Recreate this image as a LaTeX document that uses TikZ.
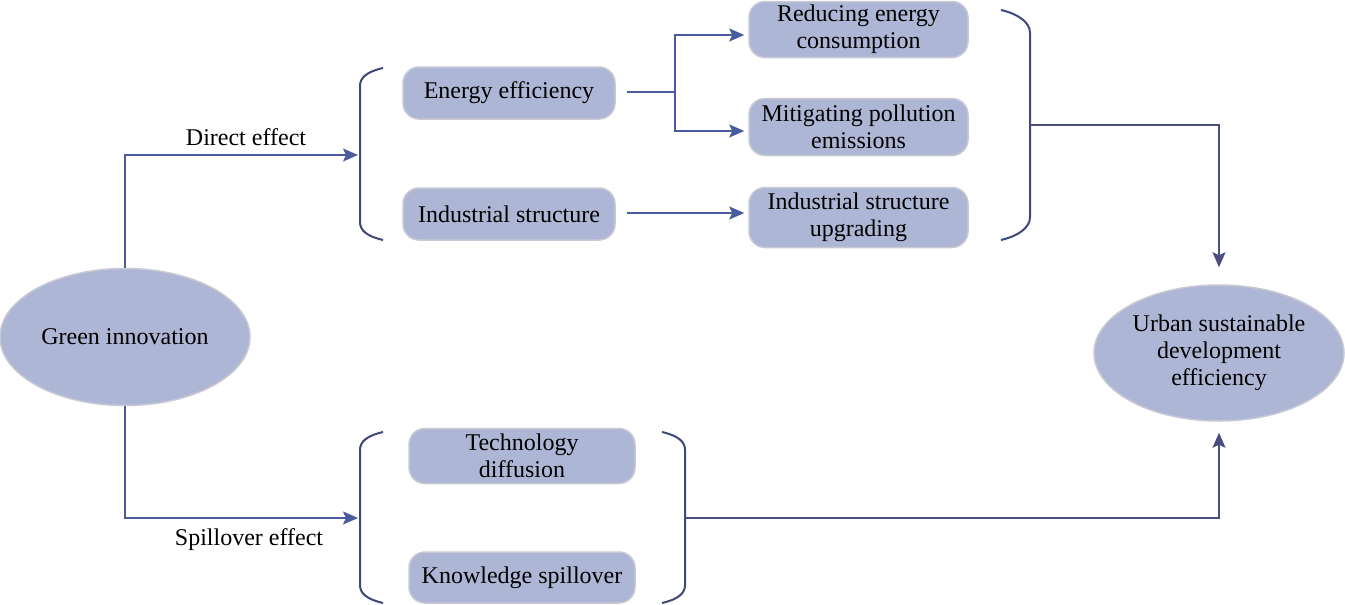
\documentclass[tikz,border=0pt]{standalone}
\usepackage{fontspec}
\setmainfont{Liberation Serif}
\usetikzlibrary{shapes.geometric,arrows.meta,calc}
\definecolor{boxfill}{RGB}{174,182,213}
\definecolor{boxedge}{RGB}{200,201,212}
\definecolor{lineblue}{RGB}{76,90,160}
\definecolor{linedark}{RGB}{72,78,128}
\definecolor{bracecol}{RGB}{62,72,122}
\tikzset{
  txt/.style={font=\fontsize{24}{27}\selectfont},
  box/.style={txt, draw=boxedge, line width=1.5pt, fill=boxfill, rounded corners=16pt,
    align=center, inner sep=0pt},
  oval/.style={txt, ellipse, draw=boxedge, line width=1.5pt, fill=boxfill,
    align=center, inner sep=0pt},
  conn/.style={line width=1.8pt, draw=lineblue},
  conndark/.style={line width=1.8pt, draw=linedark},
  tip/.style={-{Stealth[length=15pt,width=13pt,inset=3pt]}},
  bracestyle/.style={line width=2pt, draw=bracecol},
  lbl/.style={txt, inner sep=0pt}
}
\begin{document}
\begin{tikzpicture}[x=1pt,y=-1pt]
\useasboundingbox (0,0) rectangle (1345,605);
% nodes
\node[oval, minimum width=250pt, minimum height=137pt] (gi) at (125,337) {Green innovation};
\node[oval, minimum width=250pt, minimum height=136pt] (usd) at (1219,353) {Urban sustainable\\development\\efficiency};
\node[box, minimum width=212pt, minimum height=52pt] (ee) at (509,93) {Energy efficiency};
\node[box, minimum width=212pt, minimum height=52pt] (is) at (509,214) {Industrial structure};
\node[box, minimum width=219pt, minimum height=56pt] (rec) at (858.5,29.5) {Reducing energy\\consumption};
\node[box, minimum width=219pt, minimum height=57pt] (mpe) at (858.5,127) {Mitigating pollution\\emissions};
\node[box, minimum width=219pt, minimum height=60pt] (isu) at (858.5,217.5) {Industrial structure\\upgrading};
\node[box, minimum width=226pt, minimum height=55pt] (td) at (522,456) {Technology\\diffusion};
\node[box, minimum width=226pt, minimum height=51pt] (ks) at (522,577.5) {Knowledge spillover};
\node[lbl] (de) at (246,137) {Direct effect};
\node[lbl] (se) at (249,540) {Spillover effect};
% brace coordinates
\coordinate (lb1) at (359,155);
\coordinate (lb2) at (359,518);
\coordinate (rb1) at (1030,125);
\coordinate (rb2) at (685,518);
\coordinate (split) at (675,92);
% braces
\draw[bracestyle] (383,68) .. controls (366,72) and (360,78) .. (360,86) -- (360,222) .. controls (360,230) and (366,236) .. (383,240);
\draw[bracestyle] (1001,10) .. controls (1018,14) and (1030,22) .. (1030,33) -- (1030,217) .. controls (1030,228) and (1018,236) .. (1001,240);
\draw[bracestyle] (383,432) .. controls (366,436) and (360,442) .. (360,450) -- (360,585) .. controls (360,593) and (366,599) .. (383,603);
\draw[bracestyle] (662,432) .. controls (679,436) and (685,442) .. (685,450) -- (685,585) .. controls (685,593) and (679,599) .. (662,603);
% connectors
\draw[conn, tip, shorten >=1pt] (gi.north) |- (lb1);
\draw[conn, tip, shorten >=1pt] (gi.south) |- (lb2);
\draw[conn, shorten <=11pt] (ee.east |- split) -- (split);
\draw[conn, tip, shorten >=4pt] (split) |- (rec.west |- 0,35);
\draw[conn, tip, shorten >=4pt] (split) |- (mpe.west |- 0,131);
\draw[conn, tip, shorten <=11pt, shorten >=4pt] (is.east |- 0,213) -- (isu.west |- 0,213);
\draw[conndark, tip, shorten >=17pt] (rb1) -| (usd.north);
\draw[conndark, tip, shorten >=11pt] (rb2) -| (usd.south);
\end{tikzpicture}
\end{document}
